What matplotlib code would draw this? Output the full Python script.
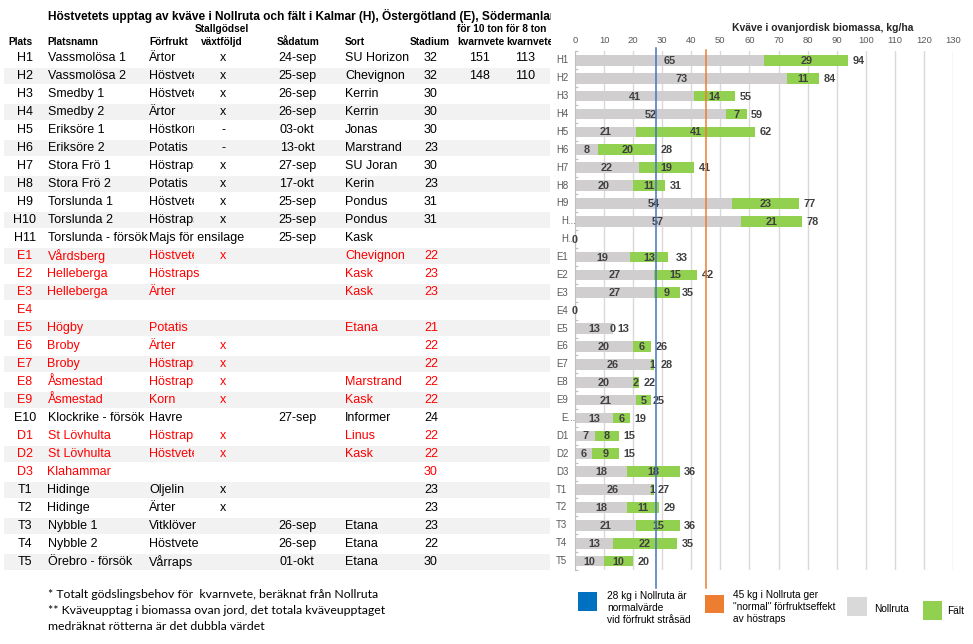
import matplotlib
matplotlib.use('Agg')
import matplotlib.pyplot as plt
import numpy as np
from matplotlib.transforms import Bbox, blended_transform_factory
from matplotlib.patches import Rectangle

# ---------------- data ----------------
title = "Höstvetets upptag av kväve i Nollruta och fält i Kalmar (H), Östergötland (E), Södermanland (D)"
plats = ['H1', 'H2', 'H3', 'H4', 'H5', 'H6', 'H7', 'H8', 'H9', 'H10', 'H11',
         'E1', 'E2', 'E3', 'E4', 'E5', 'E6', 'E7', 'E8', 'E9', 'E10',
         'D1', 'D2', 'D3', 'T1', 'T2', 'T3', 'T4', 'T5']
platsnamn = ['Vassmolösa 1', 'Vassmolösa 2', 'Smedby 1', 'Smedby 2', 'Eriksöre 1', 'Eriksöre 2',
             'Stora Frö 1', 'Stora Frö 2', 'Torslunda 1', 'Torslunda 2', 'Torslunda - försök',
             'Vårdsberg', 'Helleberga', 'Helleberga', '', 'Högby', 'Broby', 'Broby', 'Åsmestad',
             'Åsmestad', 'Klockrike - försök', 'St Lövhulta', 'St Lövhulta', 'Klahammar',
             'Hidinge', 'Hidinge', 'Nybble 1', 'Nybble 2', 'Örebro - försök']
forfrukt = ['Ärtor', 'Höstvete', 'Höstvete', 'Ärtor', 'Höstkorn', 'Potatis', 'Höstraps', 'Potatis',
            'Höstvete', 'Höstraps', 'Majs för ensilage', 'Höstvete', 'Höstraps', 'Ärter', '',
            'Potatis', 'Ärter', 'Höstraps', 'Höstraps', 'Korn', 'Havre', 'Höstraps', 'Höstvete',
            '', 'Oljelin', 'Ärter', 'Vitklöver', 'Höstvete', 'Vårraps']
stallgodsel = ['x', 'x', 'x', 'x', '-', '-', 'x', 'x', 'x', 'x', '', 'x', '', '', '', '', 'x', 'x',
               'x', 'x', '', 'x', 'x', '', 'x', 'x', '', '', '']
sadatum = ['24-sep', '25-sep', '26-sep', '26-sep', '03-okt', '13-okt', '27-sep', '17-okt', '25-sep',
           '25-sep', '25-sep', '', '', '', '', '', '', '', '', '', '27-sep', '', '', '', '', '',
           '26-sep', '26-sep', '01-okt']
sort = ['SU Horizon', 'Chevignon', 'Kerrin', 'Kerrin', 'Jonas', 'Marstrand', 'SU Joran', 'Kerin',
        'Pondus', 'Pondus', 'Kask', 'Chevignon', 'Kask', 'Kask', '', 'Etana', '', '', 'Marstrand',
        'Kask', 'Informer', 'Linus', 'Kask', '', '', '', 'Etana', 'Etana', 'Etana']
stadium = ['32', '32', '30', '30', '30', '23', '30', '23', '31', '31', '', '22', '23', '23', '',
           '21', '22', '22', '22', '22', '24', '22', '22', '30', '23', '23', '23', '22', '30']
kvarn10 = ['151', '148'] + [''] * 27
kvarn8 = ['113', '110'] + [''] * 27
red_rows = ['E1', 'E2', 'E3', 'E4', 'E5', 'E6', 'E7', 'E8', 'E9', 'D1', 'D2', 'D3']
striped_rows = ['H2', 'H4', 'H6', 'H8', 'H10', 'E1', 'E3', 'E5', 'E7', 'E9', 'D2', 'T1', 'T3', 'T5']

headers_top = {'stall': 'Stallgödsel', 'kv10': 'för 10 ton', 'kv8': 'för 8 ton'}
headers = {'plats': 'Plats', 'namn': 'Platsnamn', 'forfrukt': 'Förfrukt', 'stall': 'växtföljd',
           'sadatum': 'Sådatum', 'sort': 'Sort', 'stadium': 'Stadium', 'kv10': 'kvarnvete',
           'kv8': 'kvarnvete'}

chart_labels = ['H1', 'H2', 'H3', 'H4', 'H5', 'H6', 'H7', 'H8', 'H9', 'H...', 'H..',
                'E1', 'E2', 'E3', 'E4', 'E5', 'E6', 'E7', 'E8', 'E9', 'E...',
                'D1', 'D2', 'D3', 'T1', 'T2', 'T3', 'T4', 'T5']
nollruta = [65, 73, 41, 52, 21, 8, 22, 20, 54, 57, None, 19, 27, 27, None, 13, 20, 26, 20, 21, 13,
            7, 6, 18, 26, 18, 21, 13, 10]
falt = [29, 11, 14, 7, 41, 20, 19, 11, 23, 21, None, 13, 15, 9, None, 0, 6, 1, 2, 5, 6,
        8, 9, 18, 1, 11, 15, 22, 10]
totals = [94, 84, 55, 59, 62, 28, 41, 31, 77, 78, 0, 33, 42, 35, 0, 13, 26, 28, 22, 25, 19,
          15, 15, 36, 27, 29, 36, 35, 20]
x_ticks = list(range(0, 131, 10))
axis_title = 'Kväve i ovanjordisk biomassa, kg/ha'
ref_values = [28, 45]
legend_labels = ['28 kg i Nollruta är\nnormalvärde\nvid förfrukt stråsäd',
                 '45 kg i Nollruta ger\n"normal" förfruktseffekt\nav höstraps',
                 'Nollruta', 'Fält']
footnotes = ['* Totalt gödslingsbehov för  kvarnvete, beräknat från Nollruta',
             '** Kväveupptag i biomassa ovan jord, det totala kväveupptaget',
             'medräknat rötterna är det dubbla värdet']

# ---------------- styles ----------------
C_GRAY = '#d0cece'
C_GREEN = '#92d050'
C_BLUE_LINE = '#4472c4'
C_ORANGE_LINE = '#ed7d31'
C_LEG = ['#0070c0', '#ed7d31', '#d9d9d9', '#92d050']
C_STRIPE = '#f2f2f2'
C_RED = '#ff0000'
C_LBL = '#404040'
C_AX = '#595959'
SANS = ['Liberation Sans', 'DejaVu Sans']
NARROW = ['Liberation Sans Narrow', 'Liberation Sans', 'DejaVu Sans']
CAL = ['Lato', 'DejaVu Sans']

W, H = 973, 644
fig = plt.figure(figsize=(W / 100, H / 100), dpi=100)
bg = fig.add_axes([0, 0, 1, 1])
bg.set_xlim(0, W)
bg.set_ylim(H, 0)
bg.axis('off')


def clipbox(x0, x1, y):
    return Bbox.from_extents(x0, H - (y + 10), x1, H - (y - 10))


def put(x, y, s, ha='left', clip=None, **kw):
    if not s:
        return
    t = bg.text(x, y, s, ha=ha, va='center', **kw)
    if clip is not None:
        t.set_clip_box(clipbox(clip[0], clip[1], y))
        t.set_clip_on(True)
    return t


# ---------------- table ----------------
n = len(plats)
row0, drow = 58.3, 17.98
table_y = [row0 + i * drow for i in range(n)]

for i, p in enumerate(plats):
    if p in striped_rows:
        bg.add_patch(Rectangle((4, table_y[i] - 8), 546, 16, color=C_STRIPE, lw=0, zorder=0))

put(47.5, 15.5, title, fontsize=8.6, fontweight='bold', family=NARROW, clip=(0, 551))

hfs = 7.3
put(222, 29, headers_top['stall'], ha='center', fontsize=hfs, fontweight='bold', family=SANS)
put(457, 29, headers_top['kv10'], fontsize=hfs, fontweight='bold', family=SANS, clip=(450, 504))
put(506, 29, headers_top['kv8'], fontsize=hfs, fontweight='bold', family=SANS, clip=(504, 551))
put(8, 41.5, headers['plats'], fontsize=hfs, fontweight='bold', family=SANS)
put(47.5, 41.5, headers['namn'], fontsize=hfs, fontweight='bold', family=SANS)
put(149, 41.5, headers['forfrukt'], fontsize=hfs, fontweight='bold', family=SANS)
put(222, 41.5, headers['stall'], ha='center', fontsize=hfs, fontweight='bold', family=SANS)
put(298, 41.5, headers['sadatum'], ha='center', fontsize=hfs, fontweight='bold', family=SANS)
put(345, 41.5, headers['sort'], fontsize=hfs, fontweight='bold', family=SANS)
put(430, 41.5, headers['stadium'], ha='center', fontsize=hfs, fontweight='bold', family=SANS)
put(457, 41.5, headers['kv10'], fontsize=hfs, fontweight='bold', family=SANS, clip=(450, 504))
put(506, 41.5, headers['kv8'], fontsize=hfs, fontweight='bold', family=SANS, clip=(504, 551))

bfs = 9.0
for i in range(n):
    y = table_y[i]
    col = C_RED if plats[i] in red_rows else '#000000'
    kw = dict(fontsize=bfs, family=SANS, color=col)
    put(25, y, plats[i], ha='center', **kw)
    put(47.5, y, platsnamn[i], clip=(40, 148) if forfrukt[i] else None, **kw)
    put(149, y, forfrukt[i], clip=(140, 193.5) if stallgodsel[i] else None, **kw)
    put(223, y, stallgodsel[i], ha='center', **kw)
    put(297, y, sadatum[i], ha='center', **kw)
    put(345, y, sort[i], **kw)
    put(431, y, stadium[i], ha='center', **kw)
    put(479, y, kvarn10[i], ha='center', **kw)
    put(525, y, kvarn8[i], ha='center', **kw)

# ---------------- chart ----------------
x0px, x1px = 575, 953
top, bot = 50.7, 570
ax = fig.add_axes([x0px / W, 1 - bot / H, (x1px - x0px) / W, (bot - top) / H])
ax.patch.set_alpha(0)
ax.set_xlim(0, 130)
ax.set_ylim(n - 0.5, -0.54)

yy = np.arange(n)
g = np.array([v if v is not None else 0 for v in nollruta], float)
f = np.array([v if v is not None else 0 for v in falt], float)
ax.barh(yy, g, height=0.6, color=C_GRAY, zorder=2)
ax.barh(yy, f, left=g, height=0.6, color=C_GREEN, zorder=2)

ax.set_xticks(x_ticks)
ax.xaxis.tick_top()
ax.tick_params(axis='x', length=0, pad=4.2, labelsize=6.8, labelcolor=C_AX)
for lab in ax.get_xticklabels():
    lab.set_family(SANS)
ax.grid(axis='x', color='#d9d9d9', lw=1.0, zorder=0)
ax.set_axisbelow(True)
for s in ['top', 'right', 'bottom']:
    ax.spines[s].set_visible(False)
ax.spines['left'].set_color('#bfbfbf')
ax.spines['left'].set_linewidth(0.8)
ax.set_yticks([])
ax.set_yticks(np.arange(n + 1) - 0.5, minor=True)
ax.tick_params(axis='y', which='minor', direction='in', length=2.2, color='#bfbfbf', width=0.8)

ylab_tr = blended_transform_factory(bg.transData, ax.transData)
for i, lab in enumerate(chart_labels):
    xl = 561 if '..' in lab else 556
    bg.text(xl, i, lab, transform=ylab_tr, ha='left', va='center', fontsize=6.9,
            color=C_AX, family=SANS)

lblkw = dict(fontsize=7.8, fontweight='bold', color=C_LBL, family=SANS, va='center', zorder=5)
for i in range(n):
    if nollruta[i] is not None:
        ax.text(g[i] / 2, i + 0.03, f'{nollruta[i]}', ha='center', **lblkw)
    if falt[i] is not None:
        ax.text(g[i] + f[i] / 2, i + 0.03, f'{falt[i]}', ha='center', **lblkw)
    if totals[i] == 0:
        ax.text(totals[i], i + 0.03, f'{totals[i]}', ha='center', **lblkw)
    else:
        ax.annotate(f'{totals[i]}', (totals[i], i + 0.03), xytext=(3.3, 0),
                    textcoords='offset points', ha='left', **lblkw)

bg.text(732, 28.3, axis_title, ha='left', va='center', fontsize=7.5, fontweight='bold',
        color='#262626', family=SANS)

# reference lines
vl = blended_transform_factory(ax.transData, bg.transData)
ax.plot([ref_values[0]] * 2, [48.3, 588], color=C_BLUE_LINE, lw=1.1, transform=vl,
        clip_on=False, zorder=6)
ax.plot([ref_values[1]] * 2, [50, 588], color=C_ORANGE_LINE, lw=1.1, transform=vl,
        clip_on=False, zorder=6)

# ---------------- legend ----------------
leg_boxes = [(578, 592, 19, 19), (705, 595, 19, 18), (847, 597, 20, 19), (923, 601, 19, 19)]
leg_text = [(607, 608), (733, 607), (874, 609), (947, 611)]
for (bx, by, bw, bh), c in zip(leg_boxes, C_LEG):
    bg.add_patch(Rectangle((bx, by), bw, bh, color=c, lw=0))
for (tx, ty), s in zip(leg_text, legend_labels):
    bg.text(tx, ty, s, ha='left', va='center', fontsize=7.3, family=SANS, color='#000000',
            linespacing=1.2)

# ---------------- footnotes ----------------
for s, y in zip(footnotes, [594.5, 611, 627]):
    bg.text(48, y, s, ha='left', va='center', fontsize=8.85, family=CAL, color='#000000')

fig.savefig('out.png', dpi=100)
